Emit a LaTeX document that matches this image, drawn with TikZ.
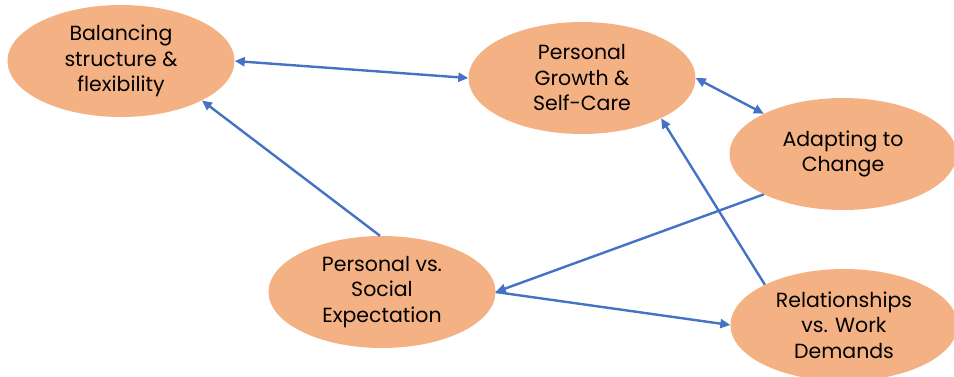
\documentclass[tikz,border=0pt]{standalone}
\usepackage{fontspec}
\setmainfont{Poppins}
\usetikzlibrary{arrows.meta, shapes.geometric}
\definecolor{bubble}{HTML}{F4B183}
\definecolor{link}{HTML}{4472C4}
\tikzset{
	topic/.style={ellipse, fill=bubble, minimum width=227pt, minimum height=112pt, inner sep=0pt, align=center, font=\fontsize{20.5}{25.5}\selectfont},
	arr/.style={draw=link, line width=2.4pt, -{Triangle[length=10pt,width=9pt]}},
	darr/.style={arr, {Triangle[length=10pt,width=9pt]}-{Triangle[length=10pt,width=9pt]}}
}
\begin{document}
\begin{tikzpicture}[x=1pt, y=-1pt]
	\useasboundingbox (0, 0) rectangle (954, 376);
	\clip (0, 0) rectangle (954, 376);
	\node[topic] at (121, 61) (bal) {Balancing\\structure \&\\flexibility};
	\node[topic] at (582, 78) (pg) {Personal\\Growth \&\\Self-Care};
	\node[topic] at (843, 154) (ad) {Adapting to\\Change};
	\node[topic] at (382, 292) (pvs) {Personal vs.\\Social\\Expectation};
	\node[topic] at (844, 325) (rel) {Relationships\\vs. Work\\Demands};
	\draw[darr] (bal.east) -- (pg.west);
	\draw[darr] (pg.east) -- (ad.153);
	\draw[arr] (pvs.92) -- (bal.-26);
	\draw[arr] (ad.207) -- (pvs.east);
	\draw[arr] (pvs.east) -- (rel.west);
	\draw[arr] (rel.153) -- (pg.-27);
\end{tikzpicture}
\end{document}
